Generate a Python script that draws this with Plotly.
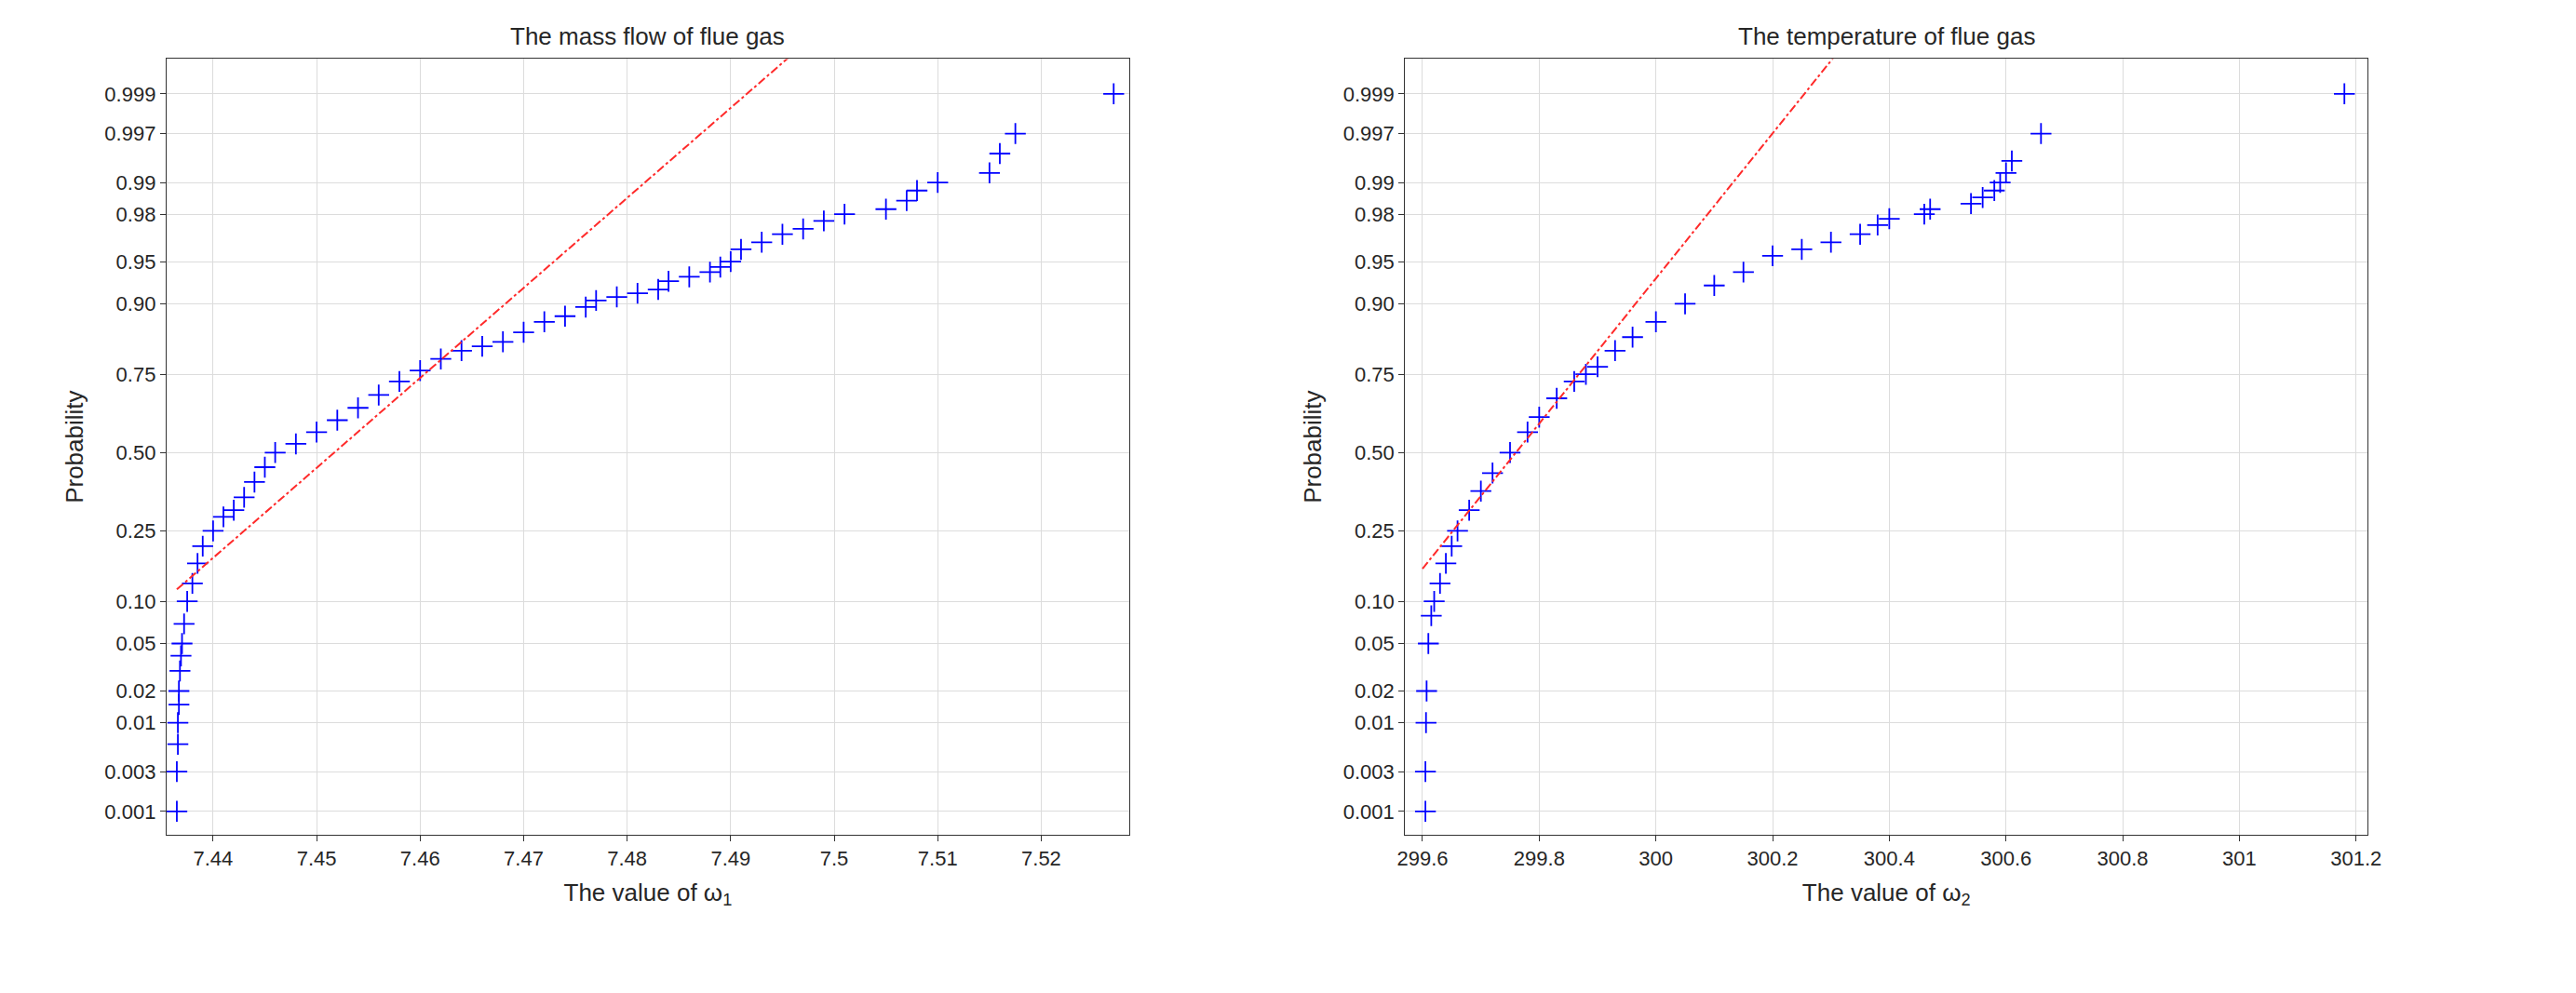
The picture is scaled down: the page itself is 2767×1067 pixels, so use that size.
import plotly.graph_objects as go
from statistics import NormalDist

nd = NormalDist()
z = nd.inv_cdf

# Left panel: mass flow of flue gas (x value, probability)
mass_x = [7.4365,7.4365,7.4366,7.4366,7.4367,7.4367,7.4368,7.4369,7.437,7.4372,7.4375,7.438,7.4385,7.439,7.44,7.441,7.442,7.443,7.444,7.445,7.446,7.448,7.45,7.452,7.454,7.456,7.458,7.46,7.462,7.464,7.466,7.468,7.47,7.472,7.474,7.476,7.477,7.479,7.481,7.483,7.484,7.486,7.488,7.489,7.49,7.491,7.493,7.495,7.497,7.499,7.501,7.505,7.507,7.508,7.51,7.515,7.516,7.5175,7.527]
mass_p = [0.001,0.003,0.006,0.01,0.015,0.02,0.03,0.04,0.05,0.07,0.10,0.13,0.17,0.21,0.25,0.29,0.31,0.35,0.40,0.45,0.50,0.53,0.57,0.61,0.65,0.69,0.73,0.76,0.79,0.81,0.82,0.83,0.85,0.87,0.88,0.895,0.905,0.91,0.915,0.92,0.93,0.935,0.94,0.945,0.95,0.96,0.965,0.97,0.973,0.977,0.98,0.982,0.985,0.988,0.99,0.992,0.995,0.997,0.999]
mass_fit = (7.4517, 0.0129)
mass_line_x = [7.4365, 7.50]

# Right panel: temperature of flue gas
temp_x = [299.605,299.605,299.606,299.607,299.61,299.615,299.62,299.63,299.64,299.65,299.66,299.68,299.7,299.72,299.75,299.78,299.8,299.83,299.86,299.88,299.9,299.93,299.96,300.0,300.05,300.1,300.15,300.2,300.25,300.3,300.35,300.38,300.4,300.46,300.47,300.54,300.56,300.58,300.59,300.6,300.61,300.66,301.18]
temp_p = [0.001,0.003,0.01,0.02,0.05,0.08,0.10,0.13,0.17,0.21,0.25,0.31,0.37,0.43,0.50,0.57,0.62,0.68,0.73,0.75,0.77,0.81,0.84,0.87,0.90,0.925,0.94,0.955,0.96,0.965,0.97,0.975,0.978,0.98,0.982,0.984,0.986,0.988,0.99,0.992,0.994,0.997,0.999]
temp_fit = (299.76, 0.16)
temp_line_x = [299.6, 300.35]

prob_ticks = [0.001,0.003,0.01,0.02,0.05,0.10,0.25,0.50,0.75,0.90,0.95,0.98,0.99,0.997,0.999]
prob_labels = ["0.001","0.003","0.01","0.02","0.05","0.10","0.25","0.50","0.75","0.90","0.95","0.98","0.99","0.997","0.999"]
mass_ticks = [7.44,7.45,7.46,7.47,7.48,7.49,7.5,7.51,7.52]
temp_ticks = [299.6,299.8,300,300.2,300.4,300.6,300.8,301,301.2]

fig = go.Figure()
panels = [
    (mass_x, mass_p, mass_fit, mass_line_x, "x", "y"),
    (temp_x, temp_p, temp_fit, temp_line_x, "x2", "y2"),
]
for xs, ps, (mu, sd), lx, xa, ya in panels:
    fig.add_trace(go.Scatter(x=xs, y=[z(p) for p in ps], mode="markers", xaxis=xa, yaxis=ya,
                             marker=dict(symbol="cross-thin", size=16, line=dict(color="#0000ff", width=1.8)),
                             showlegend=False))
    fig.add_trace(go.Scatter(x=lx, y=[(v - mu) / sd for v in lx], mode="lines", xaxis=xa, yaxis=ya,
                             line=dict(color="#ff2a2a", width=2, dash="dashdot"), showlegend=False))

font = dict(family="Arial, Liberation Sans", size=22, color="#262626")
ax_common = dict(showgrid=True, gridcolor="#dcdcdc", showline=True, linecolor="#333", mirror=True,
                 ticks="outside", ticklen=6, tickcolor="#333", zeroline=False, tickfont=font)
tfont = dict(family="Arial, Liberation Sans", size=26, color="#262626")
yr = [z(0.0005), z(0.99965)]
fig.update_layout(
    width=2767, height=1067, paper_bgcolor="white", plot_bgcolor="white",
    margin=dict(l=0, r=0, t=0, b=0),
    xaxis=dict(domain=[0.059, 0.436], range=[7.4355, 7.5285], tickvals=mass_ticks,
               ticktext=["7.44","7.45","7.46","7.47","7.48","7.49","7.5","7.51","7.52"],
               title=dict(text="The value of ω<sub>1</sub>", font=tfont), anchor="y", **ax_common),
    yaxis=dict(domain=[0.167, 0.948], range=yr, tickvals=[z(p) for p in prob_ticks], ticktext=prob_labels,
               title=dict(text="Probability", font=tfont), anchor="x", **ax_common),
    xaxis2=dict(domain=[0.544, 0.921], range=[299.57, 301.22], tickvals=temp_ticks,
                ticktext=["299.6","299.8","300","300.2","300.4","300.6","300.8","301","301.2"],
                title=dict(text="The value of ω<sub>2</sub>", font=tfont), anchor="y2", **ax_common),
    yaxis2=dict(domain=[0.167, 0.948], range=yr, tickvals=[z(p) for p in prob_ticks], ticktext=prob_labels,
                title=dict(text="Probability", font=tfont), anchor="x2", **ax_common),
    annotations=[
        dict(text="The mass flow of flue gas", x=0.2475, y=0.955, xref="paper", yref="paper",
             xanchor="center", yanchor="bottom", showarrow=False, font=tfont),
        dict(text="The temperature of flue gas", x=0.7325, y=0.955, xref="paper", yref="paper",
             xanchor="center", yanchor="bottom", showarrow=False, font=tfont),
    ],
)
fig.write_html("out.html")
